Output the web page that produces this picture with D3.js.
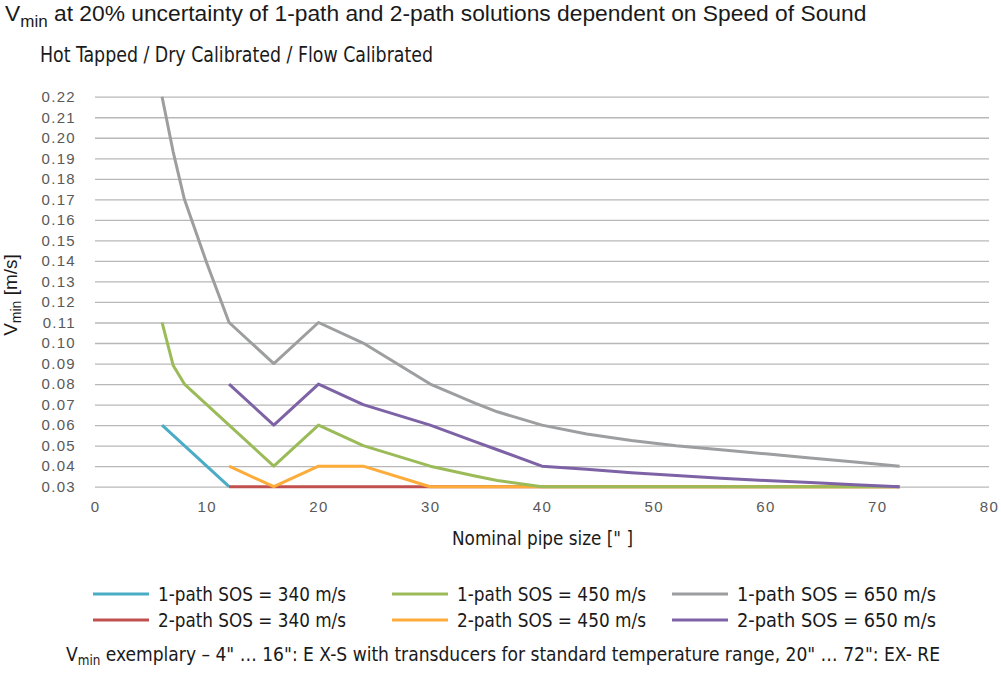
<!DOCTYPE html>
<html>
<head>
<meta charset="utf-8">
<script src="https://cdn.jsdelivr.net/npm/d3@7"></script>
<style>
  html, body { margin: 0; padding: 0; background: #ffffff; }
  svg { display: block; }
  .cond { font-family: "Liberation Sans Narrow", "DejaVu Sans Condensed", "Liberation Sans", sans-serif; }
</style>
</head>
<body>
<svg id="chart" width="1001" height="680"></svg>
<script>
// ---------------- data ----------------
const pipeSizes = [6, 7, 8, 10, 12, 16, 20, 24, 30, 34, 36, 40, 44, 48, 52, 56, 60, 64, 68, 72];

const onePath340 = [0.060, 0.055, 0.050, 0.040, 0.030, null, null, null, null, null, null, null, null, null, null, null, null, null, null, null];
const onePath450 = [0.110, 0.089, 0.080, 0.070, 0.060, 0.040, 0.060, 0.050, 0.040, 0.0352, 0.0330, 0.030, 0.030, 0.030, 0.030, 0.030, 0.030, 0.030, 0.030, 0.030];
const onePath650 = [0.220, 0.193, 0.170, 0.139, 0.110, 0.090, 0.110, 0.100, 0.080, 0.0707, 0.0665, 0.060, 0.0557, 0.0525, 0.0500, 0.0480, 0.0460, 0.0440, 0.0420, 0.0400];
const twoPath340 = [null, null, null, null, 0.030, 0.030, 0.030, 0.030, 0.030, 0.030, 0.030, 0.030, 0.030, 0.030, 0.030, 0.030, 0.030, 0.030, 0.030, 0.030];
const twoPath450 = [null, null, null, null, 0.040, 0.030, 0.040, 0.040, 0.030, 0.030, 0.030, 0.030, 0.030, 0.030, 0.030, 0.030, 0.030, 0.030, 0.030, 0.030];
const twoPath650 = [null, null, null, null, 0.080, 0.060, 0.080, 0.070, 0.060, 0.052, 0.048, 0.040, 0.0385, 0.0368, 0.0354, 0.0341, 0.0330, 0.0320, 0.0310, 0.0300];

const seriesNames = ["1-path SOS = 340 m/s", "1-path SOS = 450 m/s", "1-path SOS = 650 m/s",
                     "2-path SOS = 340 m/s", "2-path SOS = 450 m/s", "2-path SOS = 650 m/s"];
const seriesValues = [onePath340, onePath450, onePath650, twoPath340, twoPath450, twoPath650];
const seriesColors = ["#4bacc6", "#9bbb59", "#9c9ea0", "#c0504d", "#fdac3a", "#7d63a6"];
const drawOrder = [0, 3, 4, 1, 2, 5];

const yTicks = d3.range(3, 23).map(d => d / 100);
const xTicks = [0, 10, 20, 30, 40, 50, 60, 70, 80];

const titleMain = " at 20% uncertainty of 1-path and 2-path solutions dependent on Speed of Sound";
const subTitle = "Hot Tapped / Dry Calibrated / Flow Calibrated";
const xTitle = "Nominal pipe size [\" ]";
const yTitleUnit = " [m/s]";
const footText = " exemplary \u2013 4\" \u2026 16\": E X-S with transducers for standard temperature range, 20\" \u2026 72\": EX- RE";

// ---------------- layout ----------------
const svg = d3.select("#chart");
const x = d3.scaleLinear().domain([0, 80]).range([95, 989]);
const y = d3.scaleLinear().domain([0.03, 0.22]).range([486.7, 96.7]);

// gridlines + y tick labels
const yAxis = d3.axisLeft(y).tickValues(yTicks).tickFormat(d3.format(".2f"))
  .tickSize(-(x.range()[1] - x.range()[0])).tickPadding(19);
const gy = svg.append("g").attr("transform", `translate(${x.range()[0]},0)`).call(yAxis);
gy.select(".domain").remove();
gy.selectAll(".tick line").attr("stroke", "#b8b8b8").attr("stroke-width", 1.3);
gy.selectAll(".tick text").attr("fill", "#595959")
  .style("font-family", "'Liberation Sans', Arial, sans-serif").style("font-size", "15px")
  .style("letter-spacing", "1.3px");

// x tick labels
const xAxis = d3.axisBottom(x).tickValues(xTicks).tickSize(0).tickPadding(15);
const gx = svg.append("g").attr("transform", `translate(0,${y(0.03)})`).call(xAxis);
gx.select(".domain").remove();
gx.selectAll(".tick text").attr("fill", "#595959")
  .style("font-family", "'Liberation Sans', Arial, sans-serif").style("font-size", "15px")
  .style("letter-spacing", "1.3px");

// lines
const linear = d3.line()
  .defined(d => d.v !== null)
  .x(d => x(d.s))
  .y(d => y(d.v));

drawOrder.forEach(i => {
  const pts = pipeSizes.map((s, k) => ({ s: s, v: seriesValues[i][k] }));
  svg.append("path")
    .datum(pts)
    .attr("fill", "none")
    .attr("stroke", seriesColors[i])
    .attr("stroke-width", 3)
    .attr("stroke-linejoin", "round")
    .attr("d", linear);
});

// title
const t = svg.append("text").attr("x", 5).attr("y", 21)
  .style("font-family", "'Liberation Sans', Arial, sans-serif").style("font-size", "22.8px").attr("fill", "#1a1a1a");
t.append("tspan").text("V");
t.append("tspan").attr("dy", 6).style("font-size", "17px").text("min");
t.append("tspan").attr("dy", -6).text(titleMain);

svg.append("text").attr("class", "cond").attr("x", 40).attr("y", 62)
  .attr("textLength", 393).attr("lengthAdjust", "spacingAndGlyphs")
  .style("font-size", "22px").attr("fill", "#1a1a1a").text(subTitle);

// y title
const yt = svg.append("text")
  .attr("transform", `translate(17,295) rotate(-90)`)
  .attr("text-anchor", "middle")
  .style("font-family", "'Liberation Sans', Arial, sans-serif").style("font-size", "19px").attr("fill", "#1a1a1a");
yt.append("tspan").text("V");
yt.append("tspan").attr("dy", 4).style("font-size", "14px").text("min");
yt.append("tspan").attr("dy", -4).text(yTitleUnit);

// x title
svg.append("text").attr("class", "cond").attr("x", 452).attr("y", 545)
  .attr("textLength", 181).attr("lengthAdjust", "spacingAndGlyphs")
  .style("font-size", "20px").attr("fill", "#1a1a1a").text(xTitle);

// legend
const legCols = [93, 392, 672];
const legRows = [594, 620];
const legTextW = [188, 189, 199, 188, 189, 199];
seriesNames.forEach((name, i) => {
  const cx = legCols[i % 3], cy = legRows[Math.floor(i / 3)];
  svg.append("line").attr("x1", cx).attr("x2", cx + 56).attr("y1", cy).attr("y2", cy)
    .attr("stroke", seriesColors[i]).attr("stroke-width", 3);
  svg.append("text").attr("class", "cond").attr("x", cx + 65).attr("y", cy + 7)
    .attr("textLength", legTextW[i]).attr("lengthAdjust", "spacingAndGlyphs")
    .style("font-size", "20px").attr("fill", "#1a1a1a").text(name);
});

// footnote
const ft = svg.append("text").attr("class", "cond").attr("x", 66).attr("y", 661)
  .attr("textLength", 874).attr("lengthAdjust", "spacingAndGlyphs")
  .style("font-size", "20px").attr("fill", "#1a1a1a");
ft.append("tspan").text("V");
ft.append("tspan").attr("dy", 4).style("font-size", "14px").text("min");
ft.append("tspan").attr("dy", -4).text(footText);
</script>
</body>
</html>
